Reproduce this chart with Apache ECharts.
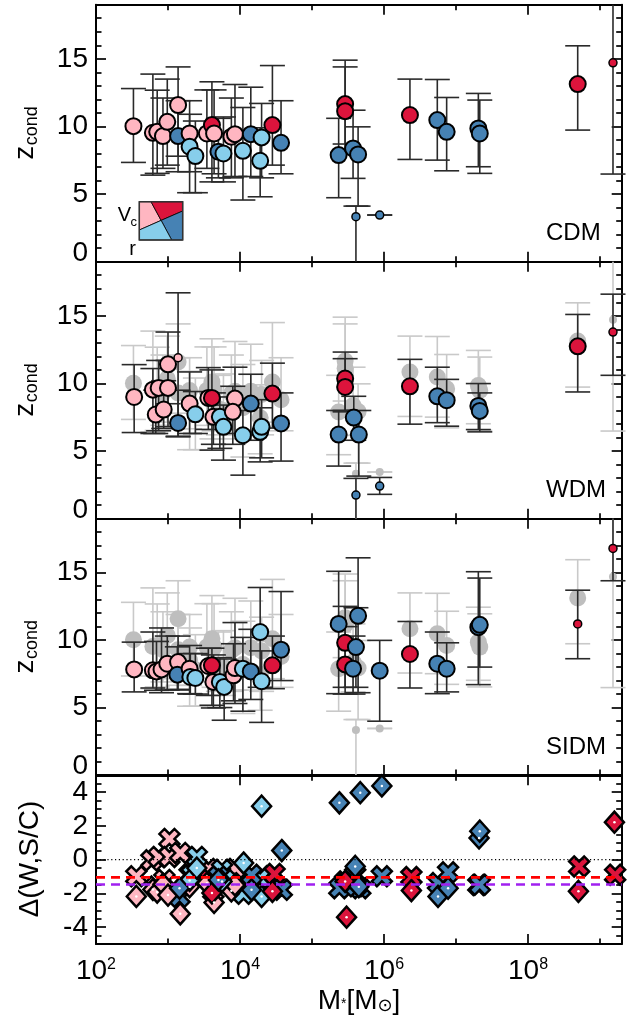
<!DOCTYPE html>
<html>
<head>
<meta charset="utf-8">
<script src="https://cdn.jsdelivr.net/npm/echarts@6/dist/echarts.min.js"></script>
<style>
html,body{margin:0;padding:0;background:#fff;}
#chart{width:630px;height:1025px;}
</style>
</head>
<body>
<div id="chart"></div>
<script>
// ================= DATA =================
// x values are log10(M* / Msun)
// class codes: p = pink, r = crimson, l = light blue, s = steel blue

// ---- CDM panel ----
const cdmLogM = [2.52, 2.79, 2.85, 2.93, 2.99, 3.14, 3.14, 3.30, 3.30, 3.38, 3.54, 3.61, 3.64, 3.70, 3.77, 3.88, 3.93, 4.04, 4.15, 4.30, 4.28, 4.45, 4.57, 5.37, 5.46, 5.46, 5.57, 5.64, 5.61, 5.94, 6.36, 6.74, 6.87, 7.31, 7.33, 8.69, 9.18];
const cdmZ    = [10.02, 9.53, 9.60, 9.29, 10.34, 11.58, 9.29, 9.48, 8.50, 7.81, 9.48, 10.10, 9.48, 8.13, 8.00, 9.24, 9.43, 8.20, 9.43, 9.19, 7.46, 10.10, 8.79, 7.88, 11.65, 11.13, 8.37, 7.93, 3.33, 3.45, 10.84, 10.47, 9.60, 9.85, 9.48, 13.13, 14.70];
const cdmLo   = [7.34, 6.40, 6.53, 6.90, 7.14, 6.65, 7.80, 6.65, 5.10, 5.10, 6.90, 5.90, 6.50, 6.20, 5.90, 6.20, 6.30, 4.56, 6.30, 6.20, 4.80, 7.14, 6.50, 4.73, 8.70, 8.10, 6.16, 4.11, -1.00, 3.45, 7.56, 7.51, 6.72, 7.02, 6.53, 9.73, 6.48];
const cdmHi   = [12.80, 13.87, 12.68, 12.10, 13.50, 14.40, 11.90, 11.90, 10.90, 10.40, 12.70, 13.30, 12.70, 10.60, 10.70, 12.10, 13.10, 11.40, 12.90, 11.70, 9.90, 14.50, 11.90, 10.60, 14.90, 14.40, 11.20, 9.97, 4.11, 3.45, 13.50, 13.47, 12.14, 12.44, 11.95, 15.96, 25.00];
const cdmCls  = ['p','p','p','p','p','p','s','p','l','l','p','r','p','s','l','p','p','l','s','l','l','r','s','s','r','r','s','s','s','s','r','s','s','s','s','r','r'];
const cdmSmall= [0,0,0,0,0,0,0,0,0,0, 0,0,0,0,0,0,0,0,0,0, 0,0,0,0,0,0,0,0,1,1, 0,0,0,0,0,0,1];

// ---- WDM panel ----
const wdmLogM = [2.53, 2.79, 2.87, 2.83, 2.94, 3.00, 3.00, 3.14, 3.14, 3.30, 3.38, 3.56, 3.61, 3.63, 3.72, 3.77, 3.93, 3.90, 4.15, 4.04, 4.28, 4.30, 4.45, 4.57, 5.37, 5.46, 5.46, 5.58, 5.65, 5.61, 5.94, 6.36, 6.74, 6.87, 7.31, 7.33, 8.69, 9.18];
const wdmZ    = [9.00, 9.54, 9.67, 7.70, 8.07, 11.41, 9.67, 11.90, 7.08, 8.51, 7.72, 8.93, 8.93, 7.53, 7.53, 6.79, 8.88, 7.90, 8.51, 6.17, 6.42, 6.79, 9.25, 7.04, 6.22, 10.36, 9.74, 7.48, 6.22, 1.75, 2.41, 9.79, 9.05, 8.76, 8.34, 7.97, 12.74, 13.80];
const wdmLo   = [6.37, 6.30, 6.50, 6.30, 6.67, 8.50, 6.80, 6.05, 6.10, 6.30, 6.30, 6.60, 5.07, 5.50, 5.20, 4.33, 6.30, 5.50, 5.80, 3.22, 4.20, 4.50, 6.70, 4.26, 3.89, 8.00, 7.90, 5.80, 3.15, -1.00, 1.80, 6.99, 7.10, 6.84, 6.59, 6.42, 9.37, 10.60];
const wdmHi   = [11.39, 11.10, 11.70, 9.50, 10.20, 13.80, 11.70, 16.70, 9.50, 10.85, 9.40, 11.17, 11.00, 9.30, 9.00, 8.40, 11.20, 9.79, 10.68, 8.00, 8.20, 8.80, 11.50, 9.30, 8.00, 12.32, 11.83, 9.05, 8.00, 2.98, 3.05, 11.78, 11.20, 10.30, 9.99, 9.30, 15.10, 16.60];
const wdmCls  = ['p','p','p','p','p','p','p','p','s','p','l','p','r','p','l','l','p','p','s','l','l','l','r','s','s','r','r','s','s','s','s','r','s','s','s','s','r','r'];
const wdmSmall= [0,0,0,0,0,0,0,1,0,0, 0,0,0,0,0,0,0,0,0,0, 0,0,0,0,0,0,0,0,0,1, 1,0,0,0,0,0,0,1];

// ---- SIDM panel ----
const sidmLogM = [2.53, 2.79, 2.84, 2.91, 2.99, 3.14, 3.13, 3.30, 3.31, 3.38, 3.56, 3.61, 3.63, 3.72, 3.78, 3.91, 3.93, 4.04, 4.15, 4.28, 4.30, 4.45, 4.57, 5.37, 5.46, 5.46, 5.64, 5.61, 5.57, 5.94, 6.36, 6.74, 6.87, 7.31, 7.33, 8.69, 9.18];
const sidmZ    = [7.83, 7.76, 7.68, 7.83, 8.25, 8.37, 7.44, 7.88, 7.27, 7.19, 8.08, 8.13, 6.90, 6.90, 6.53, 7.39, 7.93, 7.88, 7.68, 10.60, 6.95, 8.13, 9.29, 11.20, 9.80, 8.20, 11.80, 9.48, 7.88, 7.73, 8.97, 8.25, 7.88, 10.96, 11.13, 11.20, 16.80];
const sidmLo   = [6.16, 6.45, 6.28, 6.10, 6.30, 6.35, 6.30, 6.03, 6.00, 6.00, 5.90, 5.17, 4.97, 5.00, 4.06, 5.50, 5.30, 4.73, 5.60, 6.50, 3.90, 6.40, 7.00, 6.03, 6.00, 6.50, 6.10, 6.50, 6.00, 3.99, 6.45, 6.03, 6.16, 6.70, 8.00, 8.62, 14.40];
const sidmHi   = [9.85, 10.60, 9.90, 10.90, 10.30, 10.30, 9.50, 9.60, 9.00, 9.00, 9.40, 9.40, 8.90, 8.70, 8.60, 9.73, 11.30, 10.20, 10.80, 13.90, 9.20, 10.30, 13.60, 15.10, 12.50, 11.00, 16.10, 12.40, 10.30, 9.98, 11.38, 10.60, 9.80, 15.07, 14.60, 13.70, 25.00];
const sidmCls  = ['p','p','p','p','p','p','s','p','l','l','p','r','p','l','l','p','p','l','s','l','l','r','s','s','r','r','s','s','s','s','r','s','s','s','s','r','r'];
const sidmSmall= [0,0,0,0,0,0,0,0,0,0, 0,0,0,0,0,0,0,0,0,0, 0,0,0,0,0,0,0,0,0,0, 0,0,0,0,0,1,1];

// ---- Delta panel: crosses ----
const crossLogM = [2.56, 2.77, 2.87, 2.84, 2.95, 3.02, 3.02, 3.17, 3.30, 3.56, 3.63, 3.93, 3.88,
                   3.40, 3.33, 3.75, 3.79, 4.05, 4.30, 4.28,
                   3.58, 4.48, 5.46, 5.47, 6.38, 8.71, 9.21,
                   3.16, 3.70, 4.16, 4.58, 5.38, 5.60, 5.67, 5.61, 5.97, 6.75, 6.89, 7.31, 7.33];
const crossVal  = [-0.99, -0.04, 0.16, -1.60, -1.20, 1.23, 0.16, 0.40, -0.90, -0.55, -1.90, -0.55, -1.40,
                   0.16, -0.90, -0.60, -1.20, -2.02, -0.99, -1.10,
                   -1.19, -0.85, -1.29, -1.39, -1.03, -0.40, -0.89,
                   -2.20, -1.00, -0.90, -1.79, -1.69, -0.90, -1.69, -1.58, -0.99, -1.39, -0.75, -1.50, -1.49];
const crossCls  = ['p','p','p','p','p','p','p','p','p','p','p','p','p',
                   'l','l','l','l','l','l','l',
                   'r','r','r','r','r','r','r',
                   's','s','s','s','s','s','s','s','s','s','s','s','s'];

// ---- Delta panel: diamonds ----
const diaLogM = [2.56, 2.79, 2.85, 2.93, 3.00, 3.17, 3.30, 3.54, 3.64, 3.88, 3.93,
                 3.30, 3.40, 3.75, 4.05, 4.30, 4.30,
                 3.61, 4.45, 5.46, 5.48, 6.38, 8.70, 9.20,
                 3.16, 3.70, 4.16, 4.58, 5.38, 5.60, 5.67, 5.97, 5.65, 6.75, 6.89, 7.32, 7.33];
const diaVal  = [-2.18, -1.77, -1.92, -1.46, -2.10, -3.21, -1.60, -1.40, -2.54, -1.85, -1.50,
                 -1.23, -0.50, -1.29, -0.20, 3.17, -2.18,
                 -1.97, -1.88, -1.29, -3.41, -1.83, -1.88, 2.22,
                 -1.69, -1.20, -1.79, 0.54, 3.37, -0.40, 3.97, 4.37, -1.60, -2.18, -1.69, 1.29, 1.69];
const diaCls  = ['p','p','p','p','p','p','p','p','p','p','p',
                 'l','l','l','l','l','l',
                 'r','r','r','r','r','r','r',
                 's','s','s','s','s','s','s','s','s','s','s','s','s'];

// ---- reference lines in Delta panel ----
const zeroLine = 0;
const meanW = -1.05;   // red dashed
const meanS = -1.47;   // purple dashed

// ---- axis ranges ----
const X_MIN = 2, X_MAX = 9.301;
const Z_MIN = 0, Z_MAX = 19;
const D_MIN = -5, D_MAX = 5;
const panelNames = ['CDM', 'WDM', 'SIDM'];

// ================= STYLE =================
const FONT = '"Liberation Sans", Arial, Helvetica, "DejaVu Sans", sans-serif';
const COLOR = {p:'#FFB6C1', r:'#DC143C', l:'#87CEEB', s:'#4682B4'};
const AX = '#000';
const GRAY_PT = '#BEBEBE', GRAY_ERR = '#C9C9C9', ERR = '#2a2a2a';
const CROSS = 'path://M2.5,0L5,2.5L7.5,0L10,2.5L7.5,5L10,7.5L7.5,10L5,7.5L2.5,10L0,7.5L2.5,5L0,2.5Z';

const L = 96, W = 525.7;
const grids = [
  {left:L, top:4.7,   width:W, height:257},
  {left:L, top:261.7, width:W, height:257},
  {left:L, top:518.7, width:W, height:256.3},
  {left:L, top:775.3, width:W, height:168.7}
].map(g => Object.assign({outerBoundsMode:'none', containLabel:false, show:false}, g));

const TICK = {show:true, inside:true, length:10, lineStyle:{color:AX, width:1.7}};
function xAx(gi, pos, showLabel) {
  return {
    type:'value', gridIndex:gi, position:pos, min:X_MIN, max:X_MAX, interval:2,
    axisLine:{show:true, onZero:false, lineStyle:{color:AX, width:2}},
    axisTick:TICK,
    minorTick:{show:true, splitNumber:2, length:5.5, lineStyle:{color:AX, width:1.7}},
    splitLine:{show:false}, minorSplitLine:{show:false},
    axisLabel:{
      show:showLabel, margin:13,
      formatter: v => { const n = Math.round(v); return (Math.abs(v-n) < 1e-6 && n % 2 === 0) ? '{b|10}{sup|' + n + '}' : ''; },
      rich:{
        b:{fontSize:28, fontFamily:FONT, color:'#000'},
        sup:{fontSize:16, fontFamily:FONT, color:'#000', verticalAlign:'top'}
      }
    }
  };
}
function yAx(gi, pos, showLabel, delta) {
  const a = {
    type:'value', gridIndex:gi, position:pos,
    axisLine:{show:true, onZero:false, lineStyle:{color:AX, width:2}},
    axisTick:TICK,
    splitLine:{show:false}, minorSplitLine:{show:false},
    axisLabel:{show:showLabel, margin:8, fontSize:28, fontFamily:FONT, color:'#000'}
  };
  if (delta) {
    a.min = D_MIN; a.max = D_MAX; a.splitNumber = 5;
    a.minorTick = {show:true, splitNumber:4, length:5.5, lineStyle:{color:AX, width:1.7}};
    a.axisLabel.formatter = v => (Math.abs(v) < 4.5 && Math.abs(v % 2) < 1e-6) ? String(v) : '';
  } else {
    a.min = Z_MIN; a.max = Z_MAX; a.interval = 5;
    a.minorTick = {show:true, splitNumber:5, length:5.5, lineStyle:{color:AX, width:1.7}};
    a.axisLabel.formatter = v => v === 0 ? '{lo|0}' : ((v < Z_MAX && v % 5 === 0) ? String(v) : '');
    a.axisLabel.rich = {lo:{fontSize:28, fontFamily:FONT, color:'#000', padding:[0,0,17,0]}};
  }
  return a;
}

const xAxes = [], yAxes = [];
for (let g = 0; g < 4; g++) {
  xAxes.push(xAx(g, 'bottom', g === 3));
  xAxes.push(xAx(g, 'top', false));
  yAxes.push(yAx(g, 'left', true, g === 3));
  yAxes.push(yAx(g, 'right', false, g === 3));
}

// ---- helpers building series from the arrays ----
function errRender(color) {
  return function (params, api) {
    const x = api.value(0), lo = api.value(1), hi = api.value(2);
    const l = Math.max(lo, Z_MIN), h = Math.min(hi, Z_MAX);
    const p1 = api.coord([x, l]), p2 = api.coord([x, h]);
    const st = {stroke:color, lineWidth:1.6};
    const ch = [{type:'line', shape:{x1:p1[0], y1:p1[1], x2:p2[0], y2:p2[1]}, style:st}];
    const cw = 12.5;
    if (lo >= Z_MIN) ch.push({type:'line', shape:{x1:p1[0]-cw, y1:p1[1], x2:p1[0]+cw, y2:p1[1]}, style:st});
    if (hi <= Z_MAX) ch.push({type:'line', shape:{x1:p2[0]-cw, y1:p2[1], x2:p2[0]+cw, y2:p2[1]}, style:st});
    return {type:'group', children:ch};
  };
}
function errSeries(gi, logM, lo, hi, color, z) {
  return {
    type:'custom', coordinateSystem:'cartesian2d', xAxisIndex:2*gi, yAxisIndex:2*gi, z:z,
    renderItem: errRender(color), silent:true, animation:false,
    encode:{x:0, y:[1,2]},
    data: logM.map((m,i) => [m, lo[i], hi[i]])
  };
}
function ptSeries(gi, logM, zv, cls, small, gray, z) {
  return {
    type:'scatter', xAxisIndex:2*gi, yAxisIndex:2*gi, z:z, symbol:'circle', silent:true, animation:false,
    data: logM.map((m,i) => ({
      value:[m, zv[i]],
      symbolSize: small[i] ? 8 : (gray ? 17 : 16),
      itemStyle: gray ? {color:GRAY_PT, borderWidth:0, opacity:1}
                      : {color:COLOR[cls[i]], borderColor:'#000', borderWidth: small[i] ? 1.5 : 2, opacity:1}
    }))
  };
}
function hLine(val, color, type, width) {
  return {
    type:'line', xAxisIndex:6, yAxisIndex:6, z:10, symbol:'none', silent:true, animation:false,
    lineStyle:{color:color, type:type, width:width, opacity:1},
    data:[[X_MIN, val], [X_MAX, val]]
  };
}

const series = [
  errSeries(0, cdmLogM, cdmLo, cdmHi, ERR, 3),
  ptSeries(0, cdmLogM, cdmZ, cdmCls, cdmSmall, false, 4),
  errSeries(1, cdmLogM, cdmLo, cdmHi, GRAY_ERR, 1),
  ptSeries(1, cdmLogM, cdmZ, cdmCls, cdmSmall, true, 2),
  errSeries(1, wdmLogM, wdmLo, wdmHi, ERR, 3),
  ptSeries(1, wdmLogM, wdmZ, wdmCls, wdmSmall, false, 4),
  errSeries(2, cdmLogM, cdmLo, cdmHi, GRAY_ERR, 1),
  ptSeries(2, cdmLogM, cdmZ, cdmCls, cdmSmall, true, 2),
  errSeries(2, sidmLogM, sidmLo, sidmHi, ERR, 3),
  ptSeries(2, sidmLogM, sidmZ, sidmCls, sidmSmall, false, 4),
  {
    type:'scatter', xAxisIndex:6, yAxisIndex:6, z:3, symbol:CROSS, symbolSize:20, silent:true, animation:false,
    data: crossLogM.map((m,i) => ({value:[m, crossVal[i]], itemStyle:{color:COLOR[crossCls[i]], borderColor:'#000', borderWidth:2.5, opacity:1}}))
  },
  {
    type:'scatter', xAxisIndex:6, yAxisIndex:6, z:4, symbol:'diamond', symbolSize:[19,21], silent:true, animation:false,
    data: diaLogM.map((m,i) => ({value:[m, diaVal[i]], itemStyle:{color:COLOR[diaCls[i]], borderColor:'#000', borderWidth:2.5, opacity:1}}))
  },
  {
    type:'scatter', xAxisIndex:6, yAxisIndex:6, z:5, symbol:'circle', symbolSize:2.5, silent:true, animation:false,
    itemStyle:{color:'#fff', opacity:1},
    data: diaLogM.map((m,i) => [m, diaVal[i]])
  },
  hLine(zeroLine, '#000', [1.2, 2.6], 1.2),
  hLine(meanW, '#FF0000', [9, 6], 2.6),
  hLine(meanS, '#A020F0', [9, 6], 2.6)
];

// ================= GRAPHIC TEXT / INSET LEGEND =================
const graphics = [];
const panelCy = [133.2, 390.2, 646.9];
panelCy.forEach(cy => {
  graphics.push({
    type:'group', x:25, y:cy, rotation:Math.PI/2,
    children:[
      {type:'text', x:-26.5, y:0, style:{text:'z', fontSize:28, fontFamily:FONT, fill:'#000', align:'left', verticalAlign:'middle'}},
      {type:'text', x:-12, y:7, style:{text:'cond', fontSize:18, fontFamily:FONT, fill:'#000', align:'left', verticalAlign:'middle'}}
    ]
  });
});
graphics.push({
  type:'text', x:30, y:859, rotation:Math.PI/2,
  style:{text:'Δ(W,S/C)', fontSize:28, fontFamily:FONT, fill:'#000', align:'center', verticalAlign:'middle'}
});
graphics.push({
  type:'text', x:359, y:1001,
  style:{
    text:'{m|M}{s|*}{m|[M}{o|⊙}{m|]}', align:'center', verticalAlign:'middle',
    rich:{
      m:{fontSize:28, fontFamily:FONT, fill:'#000', verticalAlign:'middle'},
      s:{fontSize:14, fontFamily:FONT, fill:'#000', verticalAlign:'middle', padding:[7,0,0,0]},
      o:{fontSize:18, fontFamily:'"DejaVu Sans", sans-serif', fill:'#000', verticalAlign:'bottom', padding:[4,0,0,0]}
    }
  }
});
const nameY = [233, 490.5, 747];
panelNames.forEach((n, i) => {
  graphics.push({type:'text', x:546, y:nameY[i], style:{text:n, fontSize:24, fontFamily:FONT, fill:'#000', align:'left', verticalAlign:'middle'}});
});
const TL=[139.3,201.7], TR=[182.7,201.7], BR=[182.7,240], BL=[139.3,240];
const A1=[151,201.7], A2=[171.7,240], B1=[139.3,230], B2=[182.7,211], C=[161.1,220.4];
const polyStyle = c => ({fill:c, stroke:'#000', lineWidth:0.8});
graphics.push({type:'polygon', shape:{points:[TL,A1,C,B1]}, style:polyStyle(COLOR.p)});
graphics.push({type:'polygon', shape:{points:[A1,TR,B2,C]}, style:polyStyle(COLOR.r)});
graphics.push({type:'polygon', shape:{points:[C,B2,BR,A2]}, style:polyStyle(COLOR.s)});
graphics.push({type:'polygon', shape:{points:[B1,C,A2,BL]}, style:polyStyle(COLOR.l)});
graphics.push({type:'rect', shape:{x:139.3, y:201.7, width:43.4, height:38.3}, style:{fill:'none', stroke:'#333', lineWidth:1.5}});
graphics.push({type:'text', x:124.5, y:215, style:{text:'V', fontSize:20, fontFamily:FONT, fill:'#000', align:'center', verticalAlign:'middle'}});
graphics.push({type:'text', x:130.5, y:222, style:{text:'c', fontSize:13, fontFamily:FONT, fill:'#000', align:'left', verticalAlign:'middle'}});
graphics.push({type:'text', x:132.5, y:249, style:{text:'r', fontSize:20, fontFamily:FONT, fill:'#000', align:'center', verticalAlign:'middle'}});

const chart = echarts.init(document.getElementById('chart'), null, {renderer:'canvas'});
chart.setOption({
  animation:false,
  backgroundColor:'#fff',
  textStyle:{fontFamily:FONT},
  grid:grids,
  xAxis:xAxes,
  yAxis:yAxes,
  series:series,
  graphic:graphics
});
</script>
</body>
</html>
